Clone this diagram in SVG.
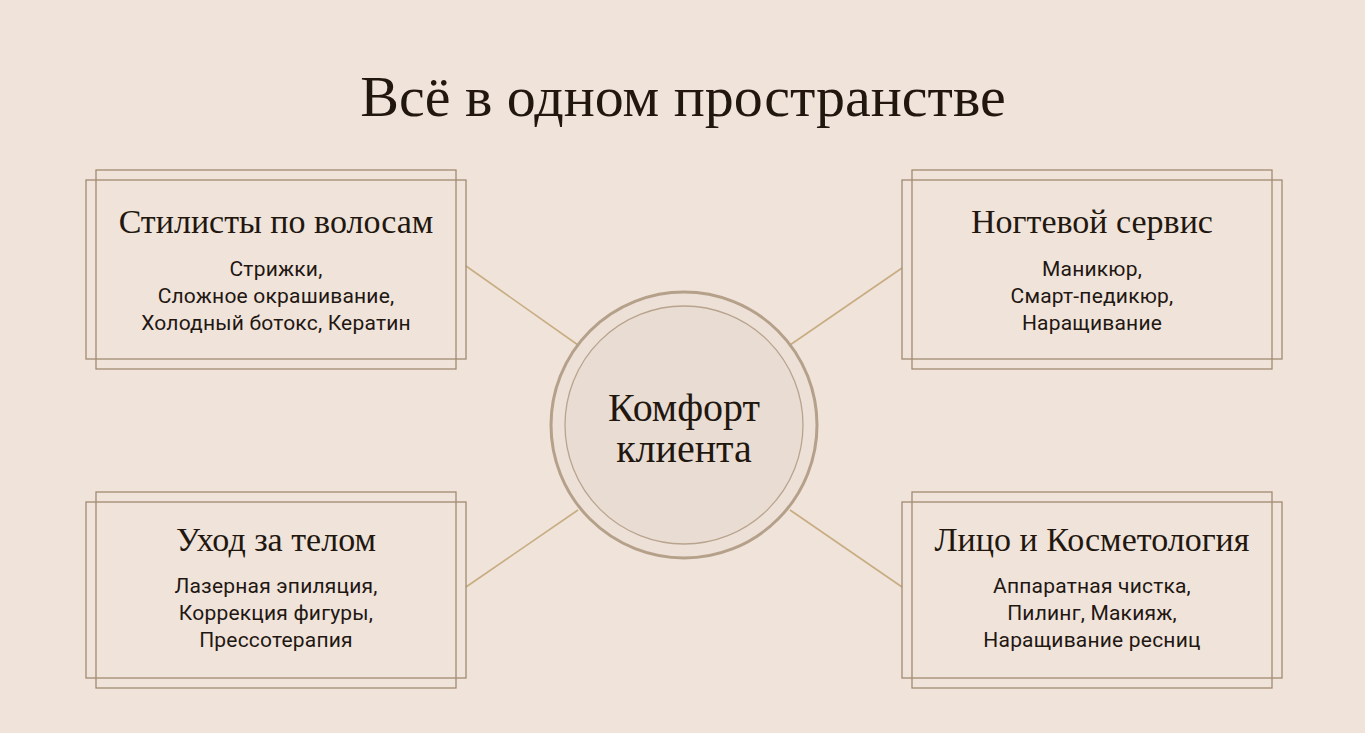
<svg xmlns="http://www.w3.org/2000/svg" width="1365" height="733" viewBox="0 0 1365 733">
<style>
.f{fill:none;stroke:#a08a72;stroke-width:1.3}
.t{font-family:"Liberation Serif",serif;fill:#22170f;text-anchor:middle}
.b{font-family:Roboto,"Liberation Sans",sans-serif;font-size:21px;fill:#1f1712;text-anchor:middle;letter-spacing:0.2px}
.c{stroke:#c8ad82;stroke-width:1.6}
</style>
<rect width="1365" height="733" fill="#efe3da"/>
<text class="t" x="683" y="116" font-size="58">Всё в одном пространстве</text>
<g id="connectors">
<line class="c" x1="466" y1="266" x2="578" y2="345"/>
<line class="c" x1="902" y1="268" x2="790" y2="345"/>
<line class="c" x1="466" y1="587" x2="578" y2="510"/>
<line class="c" x1="902" y1="587" x2="790" y2="510"/>
</g>
<g id="center">
<circle cx="684" cy="425" r="133" fill="#ede0d7" stroke="#b5a08a" stroke-width="3"/>
<circle cx="684" cy="425" r="119" fill="#e9dcd3" stroke="#b8a48e" stroke-width="1.3"/>
<text class="t" x="684" y="421" font-size="40">Комфорт</text>
<text class="t" x="684" y="462" font-size="40">клиента</text>
</g>
<g id="hair">
<rect class="f" x="96" y="170" width="360" height="199"/><rect class="f" x="86" y="180" width="380" height="179"/>
<text class="t" x="276" y="233" font-size="34">Стилисты по волосам</text>
<text class="b" x="276" y="276">Стрижки,</text><text class="b" x="276" y="303">Сложное окрашивание,</text><text class="b" x="276" y="330">Холодный ботокс, Кератин</text>
</g>
<g id="nails">
<rect class="f" x="912" y="170" width="360" height="199"/><rect class="f" x="902" y="180" width="380" height="179"/>
<text class="t" x="1092" y="233" font-size="34">Ногтевой сервис</text>
<text class="b" x="1092" y="276">Маникюр,</text><text class="b" x="1092" y="303">Смарт-педикюр,</text><text class="b" x="1092" y="330">Наращивание</text>
</g>
<g id="body">
<rect class="f" x="96" y="492" width="360" height="196"/><rect class="f" x="86" y="502" width="380" height="176"/>
<text class="t" x="276" y="551" font-size="34">Уход за телом</text>
<text class="b" x="276" y="593">Лазерная эпиляция,</text><text class="b" x="276" y="620">Коррекция фигуры,</text><text class="b" x="276" y="647">Прессотерапия</text>
</g>
<g id="face">
<rect class="f" x="912" y="492" width="360" height="196"/><rect class="f" x="902" y="502" width="380" height="176"/>
<text class="t" x="1092" y="551" font-size="34">Лицо и Косметология</text>
<text class="b" x="1092" y="593">Аппаратная чистка,</text><text class="b" x="1092" y="620">Пилинг, Макияж,</text><text class="b" x="1092" y="647">Наращивание ресниц</text>
</g>
</svg>
